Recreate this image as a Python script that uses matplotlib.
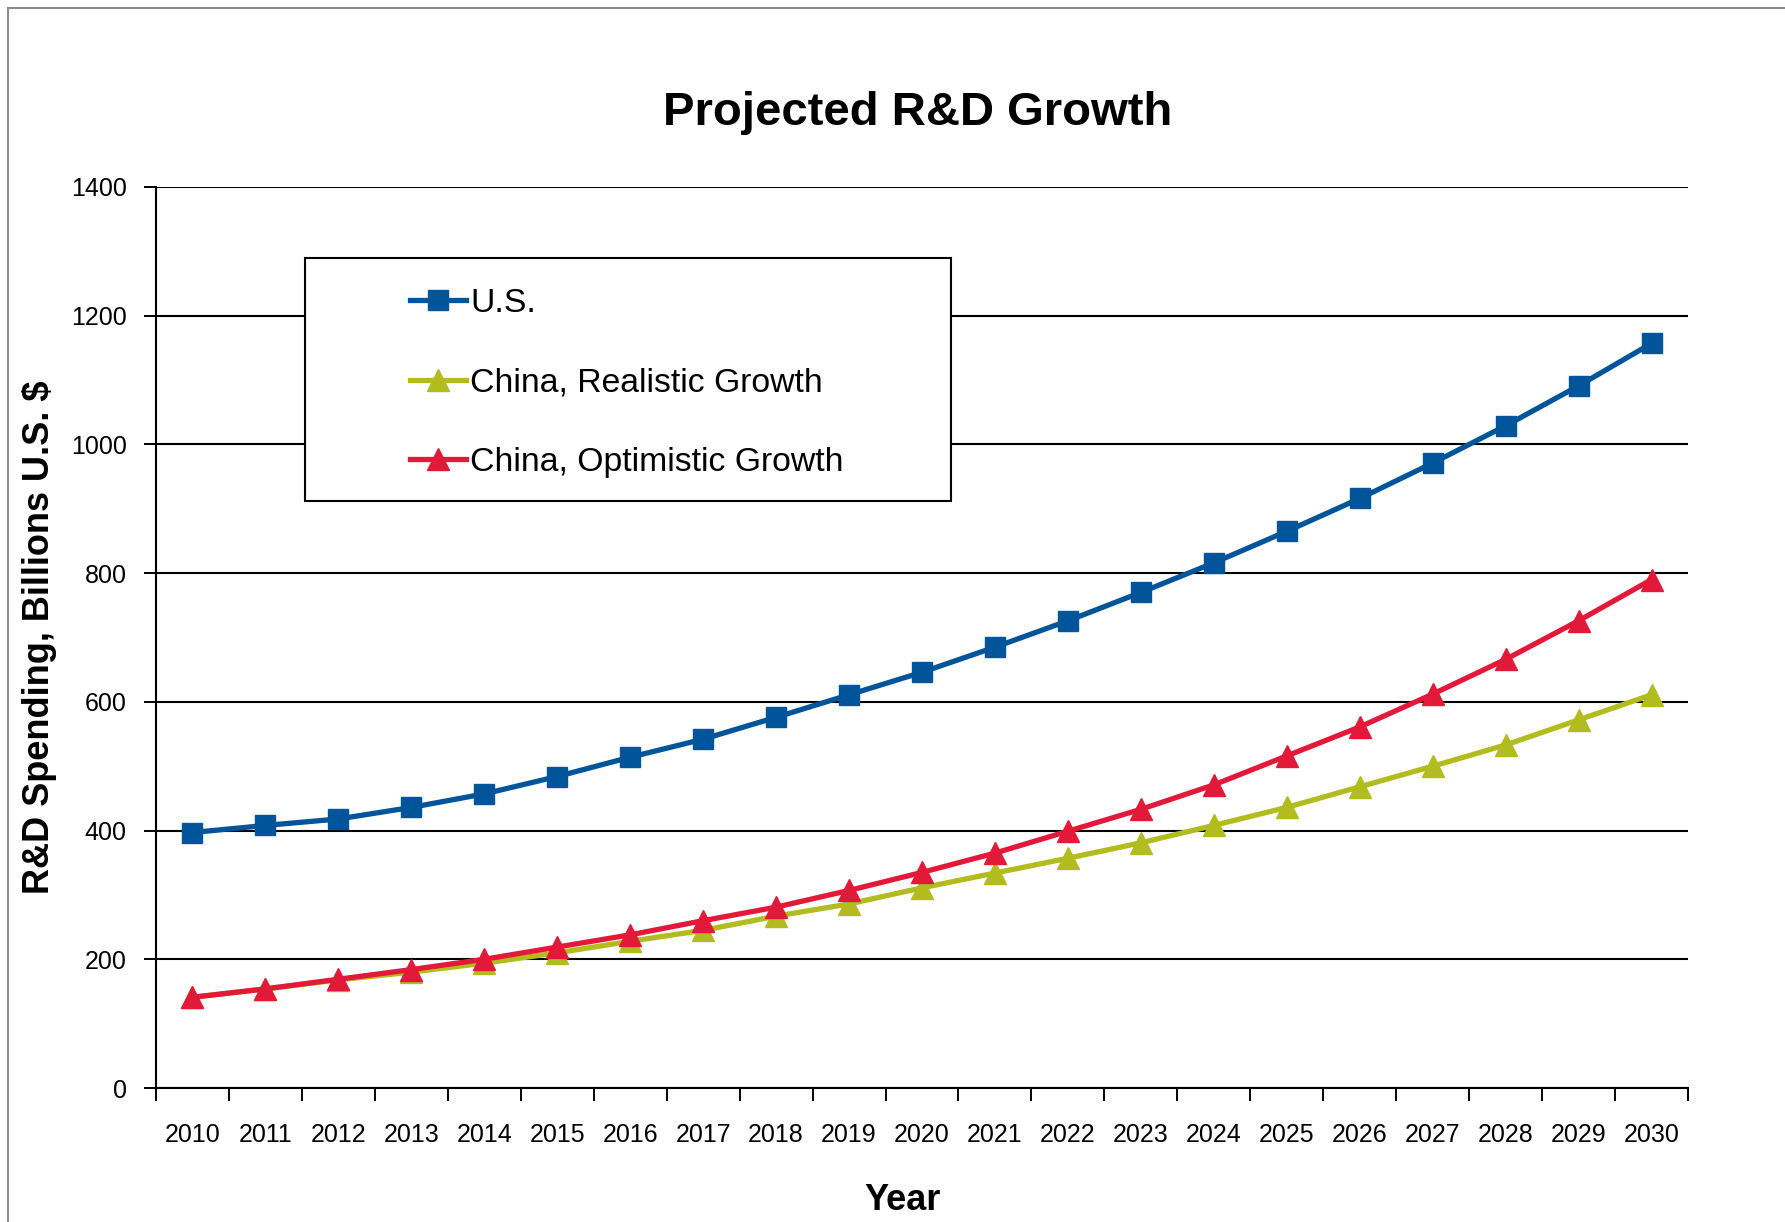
"""Projected R&D spending: U.S. versus two growth paths for China."""

import matplotlib.pyplot as plt
from matplotlib.patches import Rectangle

plt.rcParams["font.family"] = ["Liberation Sans", "DejaVu Sans"]

YEARS = [str(y) for y in range(2010, 2031)]

US = [397, 408, 418, 436, 457, 484, 514, 542, 576, 611, 646,
      685, 726, 770, 816, 865, 916, 971, 1029, 1091, 1157]
CHINA_REALISTIC = [141, 154, 168, 180, 194, 210, 228, 245, 267, 286, 311,
                   334, 357, 381, 408, 436, 468, 500, 533, 572, 611]
CHINA_OPTIMISTIC = [141, 154, 169, 184, 200, 219, 238, 260, 281, 307, 335,
                    365, 399, 433, 471, 516, 561, 612, 666, 726, 790]

Y_TICKS = [0, 200, 400, 600, 800, 1000, 1200, 1400]

BLUE = "#00559a"
OLIVE = "#b3bc1f"
RED = "#e3193a"

W, H = 1785, 1222


def px(x, y):
    """Pixel position (from top-left) to figure fraction."""
    return x / W, 1 - y / H


def main() -> None:
    fig = plt.figure(figsize=(W / 100, H / 100), dpi=100)

    # outer chart-area frame (only top and left edges fall inside the canvas)
    fig.patches.append(Rectangle((8 / W, -0.1), 1.2, 1 - 8 / H + 0.1,
                                 transform=fig.transFigure, fill=False,
                                 edgecolor="#8c8c8c", linewidth=1.5))

    ax = fig.add_axes([156 / W, 1 - 1088 / H, 1532 / W, 901 / H])
    x = list(range(len(YEARS)))

    ax.plot(x, US, color=BLUE, lw=3.8, marker="s", ms=15, label="U.S.",
            zorder=4)
    ax.plot(x, CHINA_REALISTIC, color=OLIVE, lw=3.8, marker="^", ms=15.5,
            label="China, Realistic Growth", zorder=3)
    ax.plot(x, CHINA_OPTIMISTIC, color=RED, lw=3.8, marker="^", ms=15.5,
            label="China, Optimistic Growth", zorder=4)

    ax.set_xlim(-0.5, len(YEARS) - 0.5)
    ax.set_ylim(0, 1400)
    ax.set_yticks(Y_TICKS)
    ax.set_yticklabels([str(v) for v in Y_TICKS], fontsize=18)
    ax.yaxis.grid(True, color="black", lw=1.5)
    ax.set_axisbelow(True)

    # category axis: tick marks between years, labels centred on each year
    ax.set_xticks([i - 0.5 for i in range(len(YEARS) + 1)])
    ax.set_xticklabels([])
    ax.set_xticks(x, minor=True)
    ax.set_xticklabels(YEARS, minor=True, fontsize=18)
    ax.tick_params(axis="x", which="minor", length=0, pad=25)
    ax.tick_params(axis="x", which="major", length=9, width=1.4, direction="out")
    ax.tick_params(axis="y", length=9, width=1.4, pad=12)

    for side in ("top", "right"):
        ax.spines[side].set_visible(False)
    for side in ("left", "bottom"):
        ax.spines[side].set_linewidth(1.5)

    ax.set_xlabel("Year", fontsize=26, fontweight="bold")
    ax.xaxis.set_label_coords((903 - 156) / 1532, (1088 - 1183) / 901)
    ax.set_ylabel("R&D Spending, Billions U.S. $", fontsize=26,
                  fontweight="bold")
    ax.yaxis.set_label_coords((57 - 156) / 1532, 0.5)

    fig.text(*px(918, 125), "Projected R&D Growth", fontsize=34,
             fontweight="bold", ha="center", va="baseline")

    # legend: white boxed panel with the entries sitting inside it
    box = Rectangle(px(305, 501), 646 / W, 243 / H, transform=fig.transFigure,
                    facecolor="white", edgecolor="black", linewidth=1.5,
                    zorder=5)
    ax.add_artist(box)
    box.set_clip_on(False)
    leg = ax.legend(loc="upper left", bbox_to_anchor=px(410, 288),
                    bbox_transform=fig.transFigure, fontsize=24.3,
                    frameon=False, handlelength=1.66, handletextpad=0.12,
                    labelspacing=1.44, borderpad=0, borderaxespad=0)
    leg.set_zorder(6)

    fig.savefig("out.png", dpi=100, facecolor="white")
    plt.close(fig)


if __name__ == "__main__":
    main()
